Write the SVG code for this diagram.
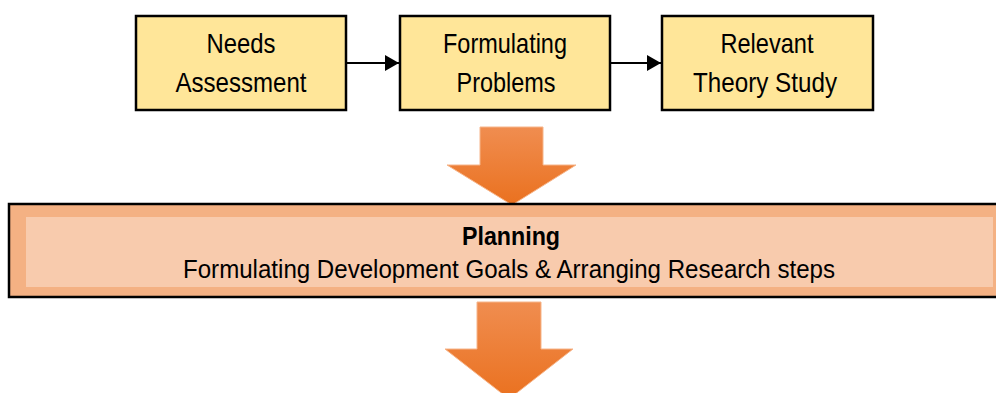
<svg xmlns="http://www.w3.org/2000/svg" width="996" height="393" viewBox="0 0 996 393">
  <style>
    .box { fill: #FFE699; stroke: #000; stroke-width: 2.5; }
    .lbl { font-family: "Liberation Sans", Arial, sans-serif; font-size: 28px; fill: #000; text-anchor: middle; }
    .band { font-size: 26.5px; }
    .conn { stroke: #000; stroke-width: 2; fill: none; }
    .big { fill: url(#orangeGrad); stroke: #F6B58A; stroke-width: 1; }
  </style>
  <defs>
    <marker id="head" viewBox="0 0 10 10" refX="10" refY="5" markerWidth="7" markerHeight="8" markerUnits="strokeWidth" orient="auto" preserveAspectRatio="none">
      <path d="M0,0 L10,5 L0,10 Z" fill="#000"/>
    </marker>
    <linearGradient id="orangeGrad" x1="0" y1="0" x2="0" y2="1">
      <stop offset="0" stop-color="#F08D50"/>
      <stop offset="1" stop-color="#EA711F"/>
    </linearGradient>
  </defs>

  <!-- top row of process steps -->
  <g id="needs">
    <rect class="box" x="136" y="16" width="210" height="94"/>
    <text class="lbl" x="241" y="53" textLength="69" lengthAdjust="spacingAndGlyphs">Needs</text>
    <text class="lbl" x="241" y="92" textLength="131" lengthAdjust="spacingAndGlyphs">Assessment</text>
  </g>
  <g id="formulating">
    <rect class="box" x="400" y="16" width="210" height="94"/>
    <text class="lbl" x="505" y="53" textLength="124" lengthAdjust="spacingAndGlyphs">Formulating</text>
    <text class="lbl" x="506" y="92" textLength="99" lengthAdjust="spacingAndGlyphs">Problems</text>
  </g>
  <g id="theory">
    <rect class="box" x="662" y="16" width="211" height="94"/>
    <text class="lbl" x="767" y="53" textLength="93" lengthAdjust="spacingAndGlyphs">Relevant</text>
    <text class="lbl" x="765" y="92" textLength="144" lengthAdjust="spacingAndGlyphs">Theory Study</text>
  </g>

  <!-- connectors between steps -->
  <g id="connectors">
    <line class="conn" x1="346" y1="63" x2="399" y2="63" marker-end="url(#head)"/>
    <line class="conn" x1="610" y1="63" x2="661" y2="63" marker-end="url(#head)"/>
  </g>

  <!-- block arrow into planning -->
  <g id="arrow-down-1">
    <path class="big" d="M480,127 H543 V165 H576 L512,205 L447,165 H480 Z"/>
  </g>

  <!-- planning band -->
  <g id="planning">
    <rect x="9" y="204" width="1005" height="93" fill="#F4B183" stroke="#000" stroke-width="2.5"/>
    <rect x="26" y="217" width="967" height="70" fill="#F8CBAD"/>
    <text class="lbl band" x="511" y="245" font-weight="bold" textLength="98" lengthAdjust="spacingAndGlyphs">Planning</text>
    <text class="lbl band" x="509" y="278" textLength="652" lengthAdjust="spacingAndGlyphs">Formulating Development Goals &amp; Arranging Research steps</text>
  </g>

  <!-- block arrow out of planning -->
  <g id="arrow-down-2">
    <path class="big" d="M477,302 H541 V349 H573 L509,399 L445,349 H477 Z"/>
  </g>
</svg>
